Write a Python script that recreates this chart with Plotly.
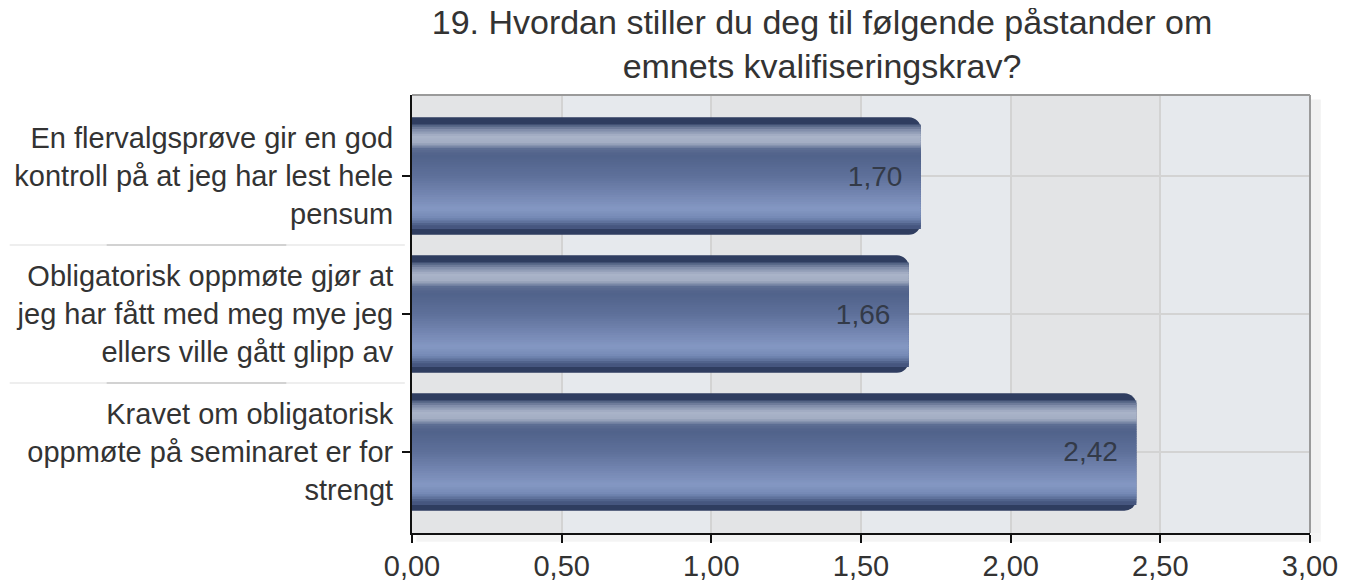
import plotly.graph_objects as go

# ---- data ----
categories = [
    "En flervalgsprøve gir en god<br>kontroll på at jeg har lest hele<br>pensum",
    "Obligatorisk oppmøte gjør at<br>jeg har fått med meg mye jeg<br>ellers ville gått glipp av",
    "Kravet om obligatorisk<br>oppmøte på seminaret er for<br>strengt",
]
values = [1.70, 1.66, 2.42]
x_ticks = [0, 0.5, 1.0, 1.5, 2.0, 2.5, 3.0]
title_text = "19. Hvordan stiller du deg til følgende påstander om<br>emnets kvalifiseringskrav?"

# ---- style ----
FONT = "Liberation Sans, Arial, sans-serif"
TXT = "#333333"
BAR_W = 0.85
W, H = 1346, 579  # page body has an 8px margin

# gradient stops across bar thickness (fraction from top, rgb)
stops = [
    (0.00, (46, 60, 94)), (0.05, (61, 76, 112)), (0.10, (122, 135, 165)),
    (0.16, (170, 180, 201)), (0.22, (163, 173, 195)), (0.27, (93, 110, 147)),
    (0.32, (80, 98, 138)), (0.50, (94, 112, 154)), (0.70, (122, 140, 184)),
    (0.78, (132, 152, 195)), (0.86, (116, 136, 180)), (0.92, (74, 91, 132)),
    (0.97, (52, 68, 106)), (1.00, (46, 60, 94)),
]


def grad(t):
    for (a, ca), (b, cb) in zip(stops[:-1], stops[1:]):
        if a <= t <= b:
            f = (t - a) / (b - a) if b > a else 0
            c = [round(ca[i] + (cb[i] - ca[i]) * f) for i in range(3)]
            return "rgb(%d,%d,%d)" % tuple(c)
    return "rgb(46,60,94)"


fig = go.Figure()
# outer dark rounded bar
fig.add_trace(go.Bar(
    x=values, y=categories, orientation="h", width=BAR_W, offset=-BAR_W / 2,
    marker=dict(color="#2f3d60", line=dict(width=0), cornerradius=12),
    hoverinfo="skip", showlegend=False,
))
# inner gradient strips
t0, t1, n = 0.06, 0.94, 44
step = (t1 - t0) / n
for k in range(n):
    a = t0 + k * step
    fig.add_trace(go.Bar(
        x=values, y=categories, orientation="h",
        width=step * 1.6 * BAR_W, offset=-BAR_W / 2 + a * BAR_W,
        marker=dict(color=grad(a + step / 2), line=dict(width=0)),
        hoverinfo="skip", showlegend=False,
    ))
# value labels
fig.add_trace(go.Bar(
    x=values, y=categories, orientation="h",
    width=BAR_W, offset=-BAR_W / 2,
    marker=dict(color="rgba(0,0,0,0)", line=dict(width=0)),
    texttemplate="%{x:.2f}\u00a0\u00a0", textposition="inside", insidetextanchor="end",
    textfont=dict(family=FONT, size=28, color="#333a48"),
    constraintext="none",
    showlegend=False,
))

shapes = []
band_cols = ["#e3e4e6", "#e6e9ed"]
for k in range(len(x_ticks) - 1):
    shapes.append(dict(type="rect", xref="x", yref="paper",
                       x0=x_ticks[k], x1=x_ticks[k + 1], y0=0, y1=1,
                       fillcolor=band_cols[k % 2], line=dict(width=0), layer="below"))
shapes.append(dict(type="rect", xref="paper", yref="paper", x0=1.0, x1=1.012, y0=-0.005, y1=0.99,
                   fillcolor="#f1f1f1", line=dict(width=0), layer="below"))
shapes.append(dict(type="rect", xref="paper", yref="paper", x0=0.005, x1=1.012, y0=-0.02, y1=0.0,
                   fillcolor="#f4f4f4", line=dict(width=0), layer="below"))
shapes.append(dict(type="line", xref="paper", yref="paper", x0=0, x1=1, y0=1, y1=1,
                   line=dict(color="#9a9a9a", width=2), layer="above"))
shapes.append(dict(type="line", xref="paper", yref="paper", x0=1, x1=1, y0=0, y1=1,
                   line=dict(color="#9a9a9a", width=2), layer="above"))
for yv in [0.5, 1.5]:
    shapes.append(dict(type="line", xref="paper", yref="y", x0=-0.448, x1=-0.008, y0=yv, y1=yv,
                       line=dict(color="#e8e8e8", width=1.5)))
    shapes.append(dict(type="line", xref="paper", yref="y", x0=-0.34, x1=-0.14, y0=yv, y1=yv,
                       line=dict(color="#c8c8c8", width=1.5)))

fig.update_layout(
    width=W, height=H,
    margin=dict(l=404, r=44, t=87, b=54, autoexpand=False),
    paper_bgcolor="white", plot_bgcolor="#e5e7ea",
    barmode="overlay",
    separators=",.",
    font=dict(family=FONT, size=29, color=TXT),
    title=dict(text=title_text, x=814 / W, xanchor="center", xref="container",
               y=1 - 26 / H, yanchor="top", yref="container",
               font=dict(family=FONT, size=34, color=TXT), automargin=False),
    shapes=shapes,
    showlegend=False,
)
fig.update_xaxes(
    range=[0, 3], tickvals=x_ticks, tickformat=".2f",
    showgrid=True, gridcolor="#d3d3d3", gridwidth=1.5,
    showline=True, linecolor="#111111", linewidth=2,
    ticks="outside", ticklen=8, tickwidth=2, tickcolor="#111111",
    tickfont=dict(family=FONT, size=29, color=TXT),
    zeroline=False, ticklabelstandoff=-2, automargin=False,
)
fig.update_yaxes(
    categoryorder="array", categoryarray=categories,
    range=[2.587, -0.587],
    showgrid=True, gridcolor="#d3d3d3", gridwidth=1.5,
    showline=True, linecolor="#111111", linewidth=2,
    ticks="outside", ticklen=8, tickwidth=2, tickcolor="#111111",
    tickfont=dict(family=FONT, size=29, color=TXT),
    zeroline=False, ticklabelstandoff=3, automargin=False,
)

fig.write_html("out.html")
